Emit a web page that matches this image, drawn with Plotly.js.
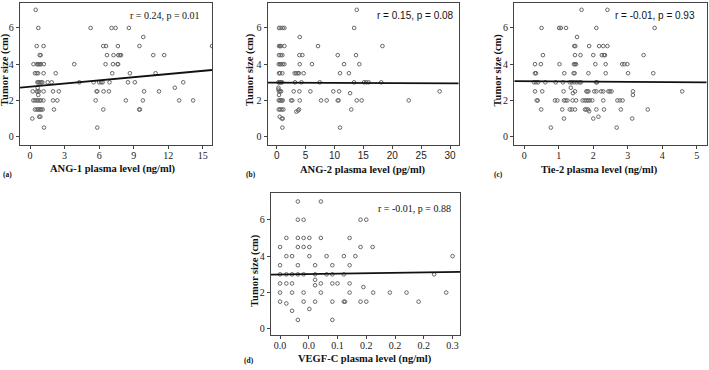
<!DOCTYPE html>
<html>
<head>
<meta charset="utf-8">
<script src="https://cdn.plot.ly/plotly-3.0.1.min.js"></script>
<style>
  html, body { margin: 0; padding: 0; background: #fff; }
  #chart { width: 709px; height: 370px; }
</style>
</head>
<body>
<div id="chart"></div>
<script>
// Tumour size (cm) against circulating angiogenic / lymphangiogenic factors.
// Each panel: patient points (x, y) plus the least-squares fit line endpoints.

// (a) ANG-1 plasma level (ng/ml)
const ang1X = [0.49,
  0.72, 5.26, 7.08, 7.43, 8.58,
  9.83,
  0.58, 1.18, 6.36, 6.6, 7.63, 9.5, 15.8,
  0.84, 0.92, 6.68, 7.25, 7.66, 7.8, 7.9, 10.7, 11.65,
  0.3, 0.6, 0.7, 0.78, 0.87, 0.95, 1.2, 3.84, 6.56, 7.2, 7.6, 7.65,
  0.43, 0.58, 0.7, 1.18, 2.23, 7.14, 8.67, 10.9,
  0.64, 0.72, 0.81, 0.9, 0.98, 1.07, 1.53, 1.88, 4.28, 5.52, 6.0, 6.18, 6.3, 6.9, 8.5, 9.1, 13.3,
  0.66, 12.57,
  0.23, 0.58, 0.66, 0.78, 1.18, 2.0, 2.5, 5.78, 5.84, 6.39, 6.85, 9.9, 11.2,
  0.72,
  0.29, 0.43, 0.58, 0.7, 0.84, 0.95, 1.16, 2.0, 2.37, 5.7, 8.32, 9.8, 12.95, 14.16,
  0.43, 0.58, 0.7, 0.81, 0.9, 0.98, 1.1, 2.08, 6.36, 9.48, 9.54,
  0.8, 0.9,
  0.2,
  1.21, 5.84];
const ang1Y = [7,
  6, 6, 6, 6, 6,
  5.5,
  5, 5, 5, 5, 5, 5, 5,
  4.5, 4.5, 4.5, 4.5, 4.5, 4.5, 4.5, 4.5, 4.5,
  4, 4, 4, 4, 4, 4, 4, 4, 4, 4, 4, 4,
  3.5, 3.5, 3.5, 3.5, 3.5, 3.5, 3.5, 3.5,
  3, 3, 3, 3, 3, 3, 3, 3, 3, 3, 3, 3, 3, 3, 3, 3, 3,
  2.7, 2.7,
  2.5, 2.5, 2.5, 2.5, 2.5, 2.5, 2.5, 2.5, 2.5, 2.5, 2.5, 2.5, 2.5,
  2.3,
  2, 2, 2, 2, 2, 2, 2, 2, 2, 2, 2, 2, 2, 2,
  1.5, 1.5, 1.5, 1.5, 1.5, 1.5, 1.5, 1.5, 1.5, 1.5, 1.5,
  1.1, 1.1,
  1,
  0.5, 0.5];
const ang1FitX = [-0.87, 15.8];
const ang1FitY = [2.71, 3.68];

// (b) ANG-2 plasma level (pg/ml)
const ang2X = [13.85,
  0.4, 0.7, 1.04, 1.33, 13.4,
  3.98,
  0.4, 0.58, 0.75, 1.33, 7.15, 18.3,
  0.4, 0.7, 0.98, 3.92, 4.44, 10.56, 13.73,
  0.35, 0.58, 0.75, 1.04, 1.33, 3.98, 6.1, 11.65, 14.3,
  0.4, 0.58, 0.98, 3.1, 3.35, 3.63, 3.86, 4.67, 10.96, 12.5,
  0.3, 0.45, 0.6, 0.75, 0.92, 3.17, 4.27, 7.44, 13.4, 15.1, 15.5, 15.9, 18.1,
  0.3, 0.3,
  0.4, 0.6, 0.75, 2.94, 3.92, 5.83, 9.8, 10.8, 28.2,
  12.7,
  0.4,
  0.35, 0.52, 0.7, 0.87, 1.04, 2.5, 2.7, 3.98, 7.67, 8.65, 10.56, 10.7, 13.85, 14.7, 22.85,
  0.35, 0.58, 0.87, 1.15, 3.86, 12.9,
  3.4, 3.7,
  0.52, 0.87, 1.04,
  0.98, 10.96];
const ang2Y = [7,
  6, 6, 6, 6, 6,
  5.5,
  5, 5, 5, 5, 5, 5,
  4.5, 4.5, 4.5, 4.5, 4.5, 4.5, 4.5,
  4, 4, 4, 4, 4, 4, 4, 4, 4,
  3.5, 3.5, 3.5, 3.5, 3.5, 3.5, 3.5, 3.5, 3.5, 3.5,
  3, 3, 3, 3, 3, 3, 3, 3, 3, 3, 3, 3, 3,
  2.7, 2.6,
  2.5, 2.5, 2.5, 2.5, 2.5, 2.5, 2.5, 2.5, 2.5,
  2.4,
  2.3,
  2, 2, 2, 2, 2, 2, 2, 2, 2, 2, 2, 2, 2, 2, 2,
  1.5, 1.5, 1.5, 1.5, 1.5, 1.5,
  1.38, 1.44,
  1.1, 1.0, 1.0,
  0.5, 0.5];
const ang2FitX = [-1.56, 31.5];
const ang2FitY = [2.98, 2.94];

// (c) Tie-2 plasma level (ng/ml)
const tie2X = [1.66, 2.41,
  0.5, 1.01, 1.06, 1.21, 2.09, 3.78,
  1.53,
  1.45, 1.48, 1.88, 2.17, 2.29, 2.41,
  0.54, 1.47, 1.63, 2.0, 2.25, 2.31, 2.34, 3.46,
  0.31, 0.48, 1.02, 1.44, 1.47, 1.5, 2.06, 2.36, 2.84, 2.9, 2.99,
  0.31, 0.34, 1.16, 1.43, 1.46, 1.86, 2.36, 3.01, 3.74,
  0.28, 0.34, 0.4, 0.61, 0.91, 1.12, 1.32, 1.38, 1.45, 1.52, 1.6, 1.64, 2.08, 2.11,
  1.35,
  0.31, 0.52, 1.14, 1.47, 1.8, 1.83, 1.86, 2.03, 2.09, 2.23, 2.29, 2.44, 2.48, 2.53, 3.15, 4.58,
  1.41,
  3.15,
  0.36, 0.39, 0.89, 0.96, 1.15, 1.2, 1.25, 1.4, 1.5, 1.69, 1.75, 1.8, 1.85, 1.9, 1.97, 2.29, 2.7, 2.77, 2.85,
  0.49, 1.1, 1.32, 1.38, 1.47, 1.76, 1.8, 1.85, 2.09, 2.31, 2.8, 3.58,
  1.88,
  2.15,
  1.15, 2.0, 3.13,
  0.77, 2.68];
const tie2Y = [7, 7,
  6, 6, 6, 6, 6, 6,
  5.5,
  5, 5, 5, 5, 5, 5,
  4.5, 4.5, 4.5, 4.5, 4.5, 4.5, 4.5, 4.5,
  4, 4, 4, 4, 4, 4, 4, 4, 4, 4, 4,
  3.5, 3.5, 3.5, 3.5, 3.5, 3.5, 3.5, 3.5, 3.5,
  3, 3, 3, 3, 3, 3, 3, 3, 3, 3, 3, 3, 3, 3,
  2.7,
  2.5, 2.5, 2.5, 2.5, 2.5, 2.5, 2.5, 2.5, 2.5, 2.5, 2.5, 2.5, 2.5, 2.5, 2.5, 2.5,
  2.4,
  2.3,
  2, 2, 2, 2, 2, 2, 2, 2, 2, 2, 2, 2, 2, 2, 2, 2, 2, 2, 2,
  1.5, 1.5, 1.5, 1.5, 1.5, 1.5, 1.5, 1.5, 1.5, 1.5, 1.5, 1.5,
  1.4,
  1.1,
  1, 1, 1,
  0.5, 0.5];
const tie2FitX = [-0.29, 5.29];
const tie2FitY = [3.07, 3.0];

// (d) VEGF-C plasma level (ng/ml)
const vegfcX = [0.031, 0.071,
  0.031, 0.041, 0.140, 0.150,
  0.011, 0.031, 0.041, 0.051, 0.071, 0.121,
  0.0, 0.031, 0.041, 0.051, 0.140, 0.161,
  0.011, 0.021, 0.051, 0.081, 0.111, 0.131, 0.300,
  0.0, 0.031, 0.061, 0.091, 0.121,
  0.0, 0.011, 0.021, 0.031, 0.041, 0.061, 0.081, 0.091, 0.111, 0.268,
  0.061,
  0.0, 0.011, 0.021, 0.071, 0.091, 0.100, 0.121,
  0.061,
  0.145,
  0.0, 0.021, 0.041, 0.071, 0.121, 0.162, 0.191, 0.220, 0.289,
  0.0, 0.041, 0.061, 0.091, 0.111, 0.113, 0.140, 0.150, 0.241,
  0.011,
  0.051,
  0.021,
  0.031, 0.091];
const vegfcY = [7, 7,
  6, 6, 6, 6,
  5, 5, 5, 5, 5, 5,
  4.5, 4.5, 4.5, 4.5, 4.5, 4.5,
  4, 4, 4, 4, 4, 4, 4,
  3.5, 3.5, 3.5, 3.5, 3.5,
  3, 3, 3, 3, 3, 3, 3, 3, 3, 3,
  2.7,
  2.5, 2.5, 2.5, 2.5, 2.5, 2.5, 2.5,
  2.4,
  2.3,
  2, 2, 2, 2, 2, 2, 2, 2, 2,
  1.5, 1.5, 1.5, 1.5, 1.5, 1.5, 1.5, 1.5, 1.5,
  1.4,
  1.1,
  1.0,
  0.5, 0.5];
const vegfcFitX = [-0.0157, 0.313];
const vegfcFitY = [2.99, 3.14];

// Axis tick values / labels
const yTicks = [0, 2, 4, 6];
const ang1Ticks = [0, 3, 6, 9, 12, 15];
const ang2Ticks = [0, 5, 10, 15, 20, 25, 30];
const tie2Ticks = [0, 1, 2, 3, 4, 5];
const vegfcTicks = [0, 0.05, 0.10, 0.15, 0.20, 0.25, 0.30];
const vegfcTickText = ['0.0', '0.0', '0.1', '0.2', '0.2', '0.2', '0.3'];

const xTitles = ['ANG-1 plasma level (ng/ml)', 'ANG-2 plasma level (pg/ml)',
                 'Tie-2 plasma level (ng/ml)', 'VEGF-C plasma level (ng/ml)'];
const yTitle = 'Tumor size (cm)';
const statTexts = ['r = 0.24, p = 0.01', 'r = 0.15, p = 0.08',
                   'r = -0.01, p = 0.93', 'r = -0.01, p = 0.88'];
const panelTags = ['(a)', '(b)', '(c)', '(d)'];

// ---- layout helpers (pixel geometry of the 709 x 370 figure) ----
const W = 709, H = 370;
const fx = p => p / W;
const fy = p => 1 - p / H;
const SERIF = 'Liberation Serif, Times New Roman, serif';
const SANS = 'Liberation Sans, Arial, sans-serif';

const panels = [
  {x: ang1X, y: ang1Y, fx: ang1FitX, fy: ang1FitY, left: 20, right: 212, top: 3.3, bottom: 145,
   xr: [-0.87, 15.8], yr: [-0.46, 7.36], tv: ang1Ticks, tt: null, tickFont: SERIF},
  {x: ang2X, y: ang2Y, fx: ang2FitX, fy: ang2FitY, left: 267.7, right: 458.7, top: 3.3, bottom: 145,
   xr: [-1.56, 31.5], yr: [-0.46, 7.36], tv: ang2Ticks, tt: null, tickFont: SANS},
  {x: tie2X, y: tie2Y, fx: tie2FitX, fy: tie2FitY, left: 514.3, right: 706.7, top: 3.3, bottom: 145,
   xr: [-0.29, 5.29], yr: [-0.46, 7.36], tv: tie2Ticks, tt: null, tickFont: SERIF},
  {x: vegfcX, y: vegfcY, fx: vegfcFitX, fy: vegfcFitY, left: 271, right: 460, top: 193.3, bottom: 335,
   xr: [-0.0157, 0.313], yr: [-0.33, 7.45], tv: vegfcTicks, tt: vegfcTickText, tickFont: SERIF}
];

// label placement (px)
const statPos = [[202, 15, SERIF], [456, 15, SANS], [697, 15, SANS], [453, 208, SERIF]];
const xTitlePos = [[112.5, 169], [363, 170], [599, 170], [365, 359]];
const yTitlePos = [[5, 70], [250, 70], [497.5, 70], [255, 271]];
const tagPos = [[7, 174], [251, 174], [498, 174], [249, 360]];

const traces = [];
const layout = {
  width: W, height: H,
  margin: {l: 0, r: 0, t: 0, b: 0},
  paper_bgcolor: '#ffffff', plot_bgcolor: '#ffffff',
  showlegend: false,
  font: {family: SERIF, color: '#111', size: 10},
  annotations: []
};

panels.forEach((p, i) => {
  const n = i === 0 ? '' : String(i + 1);
  const xa = 'x' + n, ya = 'y' + n;
  traces.push({
    type: 'scatter', mode: 'markers', x: p.x, y: p.y, xaxis: xa, yaxis: ya,
    marker: {symbol: 'circle-open', size: 3.6, color: '#666', line: {width: 1, color: '#666'}},
    hoverinfo: 'x+y'
  });
  traces.push({
    type: 'scatter', mode: 'lines', x: p.fx, y: p.fy, xaxis: xa, yaxis: ya,
    line: {color: '#111', width: 1.8}, hoverinfo: 'skip'
  });
  const axCommon = {
    showgrid: false, zeroline: false, showline: true, mirror: true,
    linecolor: '#444', linewidth: 1.2,
    ticks: 'outside', ticklen: 3, tickwidth: 1, tickcolor: '#444',
    fixedrange: true
  };
  layout['xaxis' + n] = Object.assign({}, axCommon, {
    domain: [fx(p.left), fx(p.right)], range: p.xr, anchor: ya,
    tickmode: 'array', tickvals: p.tv, ticktext: p.tt || p.tv.map(String),
    ticklabelstandoff: -2,
    tickfont: {family: p.tickFont, size: 10, color: '#222'}
  });
  layout['yaxis' + n] = Object.assign({}, axCommon, {
    domain: [fy(p.bottom), fy(p.top)], range: p.yr, anchor: xa,
    tickmode: 'array', tickvals: yTicks, ticktext: yTicks.map(String),
    tickfont: {family: SERIF, size: 10, color: '#222'}
  });

  const s = statPos[i];
  layout.annotations.push({
    xref: 'paper', yref: 'paper', x: fx(s[0]), y: fy(s[1]),
    xanchor: 'right', yanchor: 'middle', showarrow: false,
    text: statTexts[i], font: {family: s[2], size: 10, color: '#111'}
  });
  layout.annotations.push({
    xref: 'paper', yref: 'paper', x: fx(xTitlePos[i][0]), y: fy(xTitlePos[i][1]),
    xanchor: 'center', yanchor: 'middle', showarrow: false,
    text: '<b>' + xTitles[i] + '</b>', font: {family: SERIF, size: 10.5, color: '#111'}
  });
  layout.annotations.push({
    xref: 'paper', yref: 'paper', x: fx(yTitlePos[i][0]), y: fy(yTitlePos[i][1]),
    xanchor: 'center', yanchor: 'middle', showarrow: false, textangle: -90,
    text: '<b>' + yTitle + '</b>', font: {family: SERIF, size: 10.5, color: '#111'}
  });
  layout.annotations.push({
    xref: 'paper', yref: 'paper', x: fx(tagPos[i][0]), y: fy(tagPos[i][1]),
    xanchor: 'center', yanchor: 'middle', showarrow: false,
    text: '<b>' + panelTags[i] + '</b>', font: {family: SERIF, size: 7.5, color: '#111'}
  });
});

Plotly.newPlot('chart', traces, layout, {staticPlot: true, displayModeBar: false});
</script>
</body>
</html>
